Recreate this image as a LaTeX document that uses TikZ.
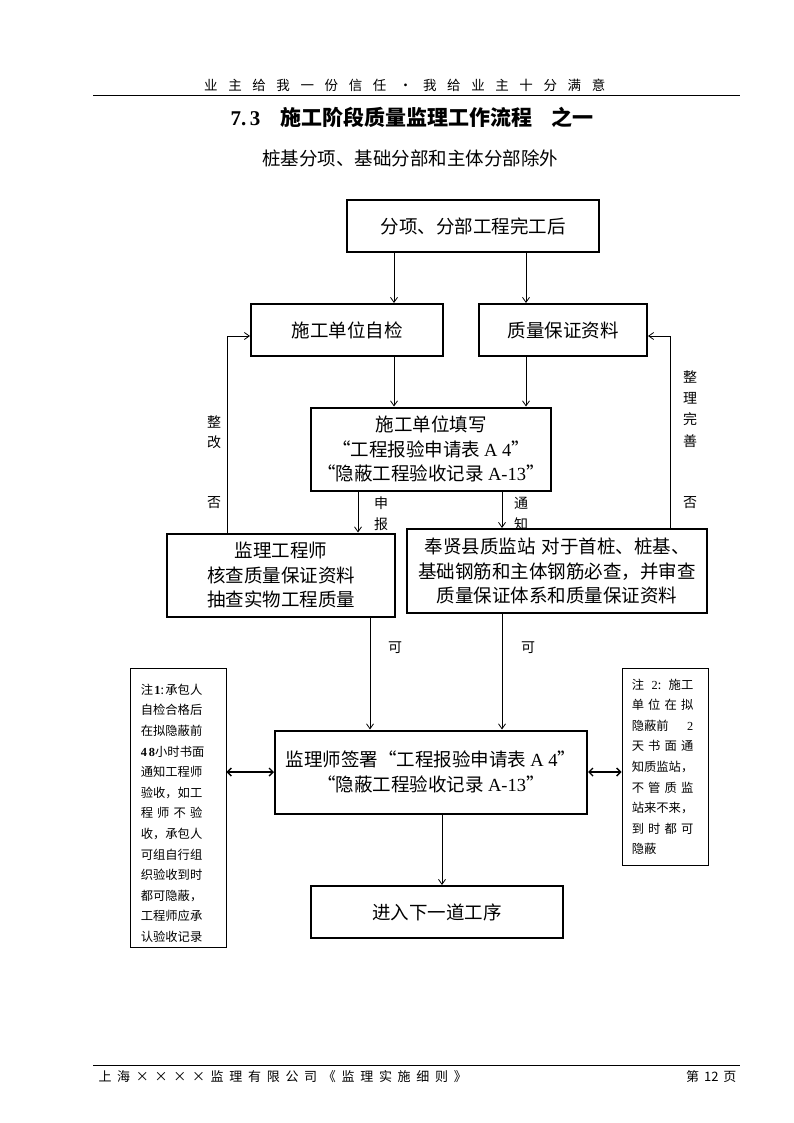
\documentclass[tikz,border=0pt]{standalone}
\usepackage{fontspec}
\setmainfont{Noto Sans CJK SC}
\newfontfamily\latin{Liberation Serif}
\usetikzlibrary{arrows.meta}

\newcommand\tracked[2]{\foreach \g in {#2}{\g\hspace{#1}}\hspace{-#1}}
\newcommand\spreadline[1]{\makebox[61.5pt][s]{#1}}

\begin{document}
\begin{tikzpicture}[x=1pt, y=-1pt,
    box/.style={draw, line width=2pt, inner sep=0pt, align=center,
      font=\fontsize{18.5}{24.5}\selectfont},
    notebox/.style={draw, line width=0.8pt, inner sep=0pt},
    notetext/.style={inner sep=0pt, text width=61.5pt, align=left,
      font=\fontsize{12.3}{20.6}\selectfont},
    lbl/.style={inner sep=0pt, align=center, font=\fontsize{14}{21}\selectfont},
    arr/.style={-{Straight Barb[length=5pt,width=7pt]}, line width=0.8pt},
    dbl/.style={{Straight Barb[length=4pt,width=8pt]}-{Straight Barb[length=4pt,width=8pt]}, line width=1.4pt}]
    \useasboundingbox (0,0) rectangle (794,1123);
    % Page head
    \node (header) at (410,85) {\fontsize{13.5}{16}\selectfont\tracked{10.6pt}{业,主,给,我,一,份,信,任,\hspace{2pt}·,我,给,业,主,十,分,满,意}};
    \draw [line width=1pt] (93,96) -- (740,96);
    \node (title) at (412,117) {\fontsize{21}{24}\selectfont\bfseries {\latin 7.\,3}\hspace{20pt}施工阶段质量监理工作流程\hspace{19pt}之一};
    \node (subtitle) at (410,158) {\fontsize{18.5}{22}\selectfont 桩基分项、基础分部和主体分部除外};
    % Boxes
    \node [box, minimum width=252pt, minimum height=52pt] (start) at (473,226) {分项、分部工程完工后};
    \node [box, minimum width=192pt, minimum height=52pt] (selfchk) at (347,330) {施工单位自检};
    \node [box, minimum width=168pt, minimum height=52pt] (docs) at (563,330) {质量保证资料};
    \node [box, minimum width=240pt, minimum height=83pt] (fillin) at (431,449)
      {施工单位填写\\“工程报验申请表 {\latin A 4}”\\“隐蔽工程验收记录 {\latin A-13}”};
    \node [box, minimum width=228pt, minimum height=83pt] (engr) at (281,575)
      {监理工程师\\核查质量保证资料\\抽查实物工程质量};
    \node [box, minimum width=300pt, minimum height=84pt] (station) at (557,571)
      {奉贤县质监站\hspace{6pt}对于首桩、桩基、\\基础钢筋和主体钢筋必查，并审查\\质量保证体系和质量保证资料};
    \node [box, minimum width=312pt, minimum height=83pt] (sign) at (431,772)
      {监理师签署“工程报验申请表 {\latin A 4}”\\“隐蔽工程验收记录 {\latin A-13}”};
    \node [box, minimum width=252pt, minimum height=52pt] (nextstep) at (437,912) {进入下一道工序};
    % Notes
    \node [notebox, minimum width=96pt, minimum height=279pt] (note1) at (178,807.5) {};
    \node [notetext, anchor=north west] (note1txt) at ([xshift=11pt, yshift=-16pt]note1.north west)
      {\spreadline{注\hfill{\latin\bfseries 1}:\hfill 承包人}\\自检合格后\\在拟隐蔽前\\
       \spreadline{{\latin\bfseries 4\,8}\hfill 小时书面}\\通知工程师\\验收，如工\\
       \spreadline{程\hfill 师\hfill 不\hfill 验}\\收，承包人\\可组自行组\\织验收到时\\
       都可隐蔽，\\工程师应承\\认验收记录};
    \node [notebox, minimum width=86pt, minimum height=197pt] (note2) at (665,766.5) {};
    \node [notetext, anchor=north west] (note2txt) at ([xshift=10pt, yshift=-11pt]note2.north west)
      {\spreadline{注\hfill{\latin 2}:\hfill 施工}\\\spreadline{单\hfill 位\hfill 在\hfill 拟}\\
       \spreadline{隐蔽前\hfill{\latin 2}}\\\spreadline{天\hfill 书\hfill 面\hfill 通}\\
       知质监站，\\\spreadline{不\hfill 管\hfill 质\hfill 监}\\站来不来，\\
       \spreadline{到\hfill 时\hfill 都\hfill 可}\\隐蔽};
    % Columns for the connectors
    \coordinate (colA) at (394,0);
    \coordinate (colB) at (526,0);
    \coordinate (colC) at (358,0);
    \coordinate (colD) at (502,0);
    \coordinate (colE) at (370,0);
    \coordinate (colF) at (442,0);
    \coordinate (loopL) at (227,0);
    \coordinate (loopR) at (670,0);
    % Down the chart
    \draw [arr] (start.south -| colA) -- (selfchk.north -| colA);
    \draw [arr] (start.south -| colB) -- (docs.north -| colB);
    \draw [arr] (selfchk.south -| colA) -- (fillin.north -| colA);
    \draw [arr] (docs.south -| colB) -- (fillin.north -| colB);
    \draw [arr] (fillin.south -| colC) -- (engr.north -| colC);
    \draw [arr] (fillin.south -| colD) -- (station.north -| colD);
    \draw [arr] (engr.south -| colE) -- (sign.north -| colE);
    \draw [arr] (station.south -| colD) -- (sign.north -| colD);
    \draw [arr] (sign.south -| colF) -- (nextstep.north -| colF);
    % Back loops
    \draw [arr] (engr.north -| loopL) |- ([yshift=-6pt]selfchk.west);
    \draw [arr] (station.north -| loopR) |- ([yshift=-6pt]docs.east);
    % Notes to the sign box
    \draw [dbl] (note1.east |- sign.west) -- (sign.west);
    \draw [dbl] (sign.east) -- (note2.west |- sign.east);
    % Labels
    \node [lbl] (shenbao) at (381,514) {申\\报};
    \node [lbl] (tongzhi) at (521,514) {通\\知};
    \node [lbl, font=\fontsize{14}{20}\selectfont] (zhenggai) at (214,432) {整\\改};
    \node [lbl] (noL) at (214,503) {否};
    \node [lbl, font=\fontsize{14}{21.3}\selectfont] (wanshan) at (690,409) {整\\理\\完\\善};
    \node [lbl] (noR) at (690,503) {否};
    \node [lbl] (okL) at (395,648) {可};
    \node [lbl] (okR) at (528,648) {可};
    % Page foot
    \draw [line width=1pt] (93,1065) -- (740,1065);
    \node [anchor=west] (footL) at (95,1077) {\fontsize{13}{16}\selectfont\tracked{5.7pt}{上,海,×,×,×,×,监,理,有,限,公,司,《,监,理,实,施,细,则,》}};
    \node [anchor=east] (footR) at (740,1077) {\fontsize{13}{16}\selectfont 第\hspace{5pt}12\hspace{5pt}页};
\end{tikzpicture}
\end{document}
